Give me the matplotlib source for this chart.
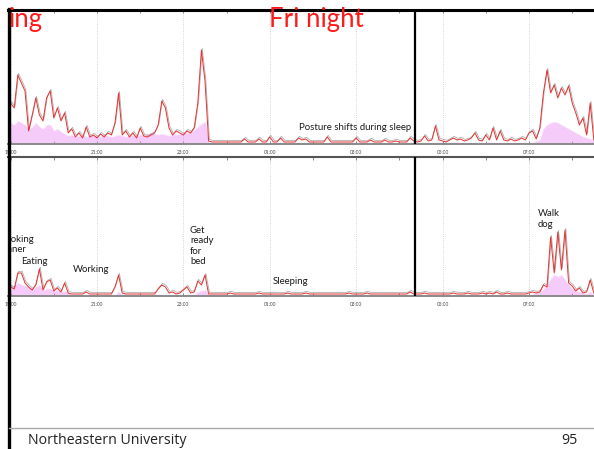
import numpy as np
import matplotlib
matplotlib.use("Agg")
import matplotlib.pyplot as plt
import matplotlib.transforms as mtransforms
from matplotlib.lines import Line2D

# samples every 5 minutes, first one at 18:55 (hours counted from 19:00)
start_hour = -1 / 12
step_hour = 5 / 60

# top panel: activity magnitude (red) and the pink point cloud
top_red = [
    30, 40, 35, 68, 60, 52, 12, 28, 45, 28, 22, 45,
    52, 25, 35, 22, 30, 10, 14, 6, 10, 5, 16, 6,
    8, 5, 9, 6, 10, 8, 20, 50, 8, 12, 6, 10,
    5, 15, 7, 6, 8, 10, 18, 42, 35, 15, 8, 12,
    10, 8, 12, 10, 15, 40, 93, 62, 2, 1, 1, 1,
    1, 1, 1, 1, 1, 1, 4, 1, 1, 1, 4, 1,
    1, 6, 1, 1, 5, 1, 1, 1, 1, 5, 3, 4,
    1, 1, 1, 1, 1, 6, 1, 1, 1, 1, 1, 1,
    1, 5, 1, 1, 1, 3, 1, 1, 1, 3, 1, 1,
    2, 1, 1, 1, 5, 2, 1, 2, 7, 2, 3, 17,
    3, 2, 1, 3, 5, 3, 4, 2, 3, 5, 10, 3,
    2, 8, 3, 15, 3, 12, 3, 2, 4, 2, 3, 5,
    3, 10, 12, 4, 15, 50, 73, 50, 58, 45, 55, 48,
    57, 40, 30, 18, 25, 8, 40, 3,
]
top_pink = [
    16, 20, 18, 22, 20, 18, 13, 16, 20, 16, 14, 18,
    18, 12, 14, 11, 9, 7, 8, 6, 7, 8, 6, 7,
    8, 7, 6, 8, 7, 6, 7, 8, 7, 6, 7, 8,
    7, 8, 8, 9, 10, 9, 8, 9, 8, 7, 9, 8,
    9, 10, 10, 11, 13, 16, 19, 21, 0, 0, 0, 0,
    0, 0, 0, 0, 0, 0, 0, 0, 0, 0, 0, 0,
    0, 0, 0, 0, 0, 0, 0, 0, 0, 0, 0, 0,
    0, 0, 0, 0, 0, 0, 0, 0, 0, 0, 0, 0,
    0, 0, 0, 0, 0, 0, 0, 0, 0, 0, 0, 0,
    0, 0, 0, 0, 0, 0, 0, 0, 0, 0, 0, 0,
    0, 0, 0, 0, 0, 0, 0, 0, 0, 0, 0, 0,
    0, 0, 0, 0, 0, 0, 0, 0, 0, 0, 0, 0,
    0, 0, 0, 2, 3, 14, 18, 20, 21, 20, 18, 16,
    14, 12, 10, 8, 6, 5, 4, 2,
]

# bottom panel
bottom_red = [
    5, 8, 6, 22, 22, 12, 8, 5, 10, 26, 5, 13,
    15, 4, 7, 3, 12, 2, 1, 1, 1, 1, 3, 1,
    1, 1, 1, 1, 1, 1, 8, 20, 2, 1, 1, 1,
    1, 1, 1, 1, 1, 1, 6, 10, 8, 2, 3, 1,
    2, 5, 8, 2, 3, 14, 10, 20, 1, 1, 1, 1,
    1, 1, 2, 1, 1, 1, 1, 1, 1, 1, 2, 1,
    1, 1, 1, 1, 1, 1, 2, 1, 1, 1, 1, 2,
    1, 1, 1, 1, 1, 1, 1, 1, 1, 1, 1, 2,
    1, 1, 1, 1, 2, 1, 1, 1, 1, 1, 1, 1,
    1, 1, 1, 1, 3, 1, 1, 1, 2, 1, 1, 1,
    1, 1, 1, 1, 2, 1, 1, 1, 2, 1, 1, 1,
    2, 1, 2, 1, 3, 1, 1, 2, 1, 1, 1, 1,
    1, 2, 3, 2, 3, 10, 8, 58, 22, 63, 25, 65,
    12, 9, 4, 7, 2, 3, 15, 2,
]
bottom_pink = [
    8, 10, 9, 12, 10, 9, 8, 6, 8, 10, 5, 6,
    6, 4, 5, 3, 4, 2, 0, 0, 0, 0, 0, 0,
    0, 0, 0, 0, 0, 0, 0, 3, 0, 0, 0, 0,
    0, 0, 0, 0, 0, 0, 0, 0, 0, 0, 0, 0,
    0, 0, 0, 0, 0, 3, 4, 5, 0, 0, 0, 0,
    0, 0, 0, 0, 0, 0, 0, 0, 0, 0, 0, 0,
    0, 0, 0, 0, 0, 0, 0, 0, 0, 0, 0, 0,
    0, 0, 0, 0, 0, 0, 0, 0, 0, 0, 0, 0,
    0, 0, 0, 0, 0, 0, 0, 0, 0, 0, 0, 0,
    0, 0, 0, 0, 0, 0, 0, 0, 0, 0, 0, 0,
    0, 0, 0, 0, 0, 0, 0, 0, 0, 0, 0, 0,
    0, 0, 0, 0, 0, 0, 0, 0, 0, 0, 0, 0,
    0, 0, 1, 2, 3, 6, 10, 16, 20, 18, 20, 15,
    10, 6, 4, 3, 2, 1, 3, 0,
]

tick_hours = [0, 2, 4, 6, 8, 10, 12]
tick_labels = ["19:00", "21:00", "23:00", "01:00", "03:00", "05:00", "07:00"]
marker_hour = 9.36  # black cursor line, about 04:21

W, H = 594, 449
FONT = ["Lato", "DejaVu Sans"]


def px(x, y):
    return x / W, 1 - y / H


def make_panel(fig, top, bottom, red, pink, ylim, top_color):
    ax = fig.add_axes([8 / W, 1 - bottom / H, (W - 8) / W, (bottom - top) / H])
    t = start_hour + step_hour * np.arange(len(red))
    ax.fill_between(t, 0, pink, color="#ea8cf2", alpha=0.45, lw=0, zorder=2)
    ax.plot(t, pink, color="#e27df0", lw=0.4, alpha=0.5, ls=":", zorder=2)
    shadow = mtransforms.offset_copy(ax.transData, fig=fig, x=0.8, y=1.6, units="dots")
    ax.plot(t, red, color="#9a9a9a", lw=0.6, alpha=0.8, transform=shadow, zorder=3)
    ax.plot(t, red, color="#e8322f", lw=0.7, zorder=4)
    ax.axvline(marker_hour, color="black", lw=1.6, zorder=5)

    ax.set_xlim((8 - 10.6) / 43.2, (W - 10.6) / 43.2)
    ax.set_ylim(*ylim)
    ax.set_yticks([])
    ax.set_xticks(tick_hours)
    ax.set_xticklabels(tick_labels, fontsize=3.4, color="#444444", family=FONT)
    ax.set_xticks([1, 3, 5, 7, 9, 11, 13], minor=True)
    ax.tick_params(axis="x", which="both", direction="in", length=2, width=0.6,
                   color="#777777", pad=4, top=True)
    ax.grid(axis="x", which="major", color="#c8c8c8", ls=":", lw=0.6)
    for side in ["left", "right"]:
        ax.spines[side].set_visible(False)
    ax.spines["bottom"].set_color("#8a8a8a")
    ax.spines["bottom"].set_linewidth(1.4)
    ax.spines["top"].set_color(top_color)
    ax.spines["top"].set_linewidth(2.2 if top_color == "black" else 1.5)
    return ax


fig = plt.figure(figsize=(W / 100, H / 100), dpi=100)
ax1 = make_panel(fig, 10, 144, top_red, top_pink, (-1, 133), "black")
ax2 = make_panel(fig, 157, 296, bottom_red, bottom_pink, (-1, 138), "#555555")

# left frame line of the slide
fig.add_artist(Line2D([9 / W, 9 / W], [0, 1 - 9 / H], color="black", lw=2.4))
# footer rule
fig.add_artist(Line2D([9 / W, 1], [1 - 428 / H, 1 - 428 / H], color="#a8a8a8", lw=1.0))

# titles
fig.text(*px(9, 20), "ing", color="#ff1a1a", fontsize=18.5, family=FONT, va="center")
fig.text(*px(269, 20), "Fri night", color="#ff1a1a", fontsize=18.5, family=FONT, va="center")

note = dict(fontsize=6.9, color="#1a1a1a", family=FONT)
fig.text(*px(299, 127), "Posture shifts during sleep", va="center", **note)

t = ax2.text((0 - 10.6) / 43.2, 295 - 235, "Cooking\ndinner", va="top", ha="left",
             linespacing=1.1, clip_on=True, **note)
t.set_clip_path(ax2.patch)
fig.text(*px(21, 261), "Eating", va="center", **note)
fig.text(*px(73, 269), "Working", va="center", **note)
fig.text(*px(190, 246), "Get\nready\nfor\nbed", va="center", linespacing=1.2, **note)
fig.text(*px(273, 282), "Sleeping", va="center", **note)
fig.text(*px(538, 219), "Walk\ndog", va="center", linespacing=1.2, **note)

# footer
fig.text(*px(28, 440), "Northeastern University", fontsize=10.2, color="#222222",
         family=["Open Sans", "DejaVu Sans"], va="center")
fig.text(*px(578, 440), "95", fontsize=10.2, color="#222222",
         family=["Open Sans", "DejaVu Sans"], va="center", ha="right")

fig.savefig("out.png", dpi=100)
